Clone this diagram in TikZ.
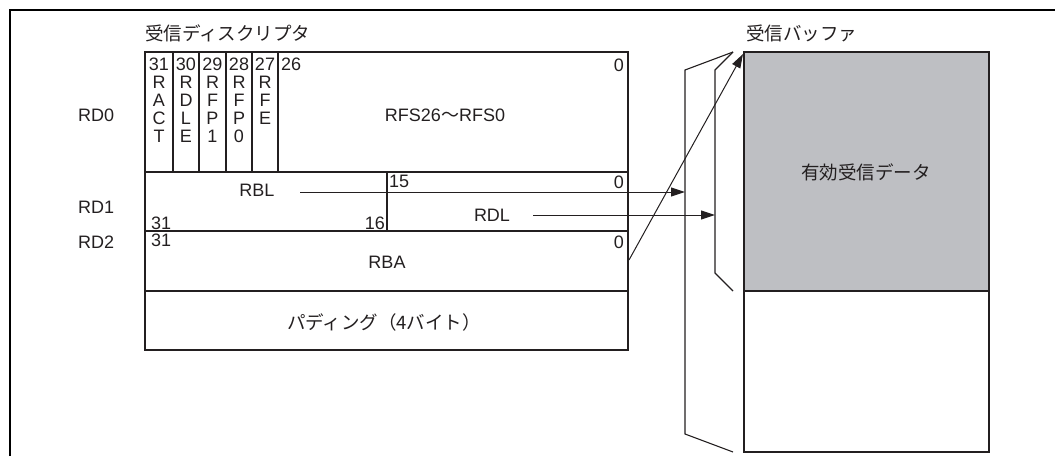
\documentclass[tikz,border=0pt]{standalone}
\usepackage{fontspec}
\setmainfont{Liberation Sans}
\newfontfamily\jp{Noto Sans CJK JP}
\usetikzlibrary{arrows.meta}
\definecolor{bufgray}{RGB}{190,191,195}
\definecolor{ink}{RGB}{35,31,32}
\begin{document}
\begin{tikzpicture}[x=1pt,y=-1pt,
  lbl/.style={inner sep=0pt, text=ink, font=\fontsize{18}{18}\selectfont},
  jlbl/.style={inner sep=0pt, text=ink, font=\jp\fontsize{18.5}{20}\selectfont},
  box/.style={line width=1.6pt, draw=ink},
  conn/.style={line width=1pt, draw=ink, -{Triangle[length=14pt,width=9pt]}},
  brk/.style={line width=1.1pt, draw=ink}]
\useasboundingbox (0,0) rectangle (1055,456);
% frame
\draw[line width=2pt] (10,456) -- (10,10) -- (1055,10);

% titles
\node[jlbl, anchor=west] (tdesc) at (145,33) {受信ディスクリプタ};
\node[jlbl, anchor=west] (tbuf) at (746,33) {受信バッファ};

% row labels
\node[lbl, anchor=west] (rd0) at (78,115) {RD0};
\node[lbl, anchor=west] (rd1) at (78,207) {RD1};
\node[lbl, anchor=west] (rd2) at (78,242) {RD2};

% descriptor boxes
\draw[box] (145,52) rectangle (628,350);
\draw[box] (145,172) -- (628,172);
\draw[box] (145,231) -- (628,231);
\draw[box] (145,291) -- (628,291);
\foreach \x in {173,199,226,252,278} \draw[box] (\x,52) -- (\x,172);
\draw[box] (387,172) -- (387,231);

% RD0 contents: bit columns, one node per character
\foreach \x/\n/\col in {159/31/{R,A,C,T}, 186/30/{R,D,L,E}, 212.5/29/{R,F,P,1}, 239/28/{R,F,P,0}, 265/27/{R,F,E}} {
  \node[lbl] (bn\n) at (\x,64) {\n};
  \foreach \c [count=\i] in \col
    \node[lbl] (bc\n-\i) at (\x,64+18*\i) {\c};
}
\node[lbl, anchor=west] (b26) at (281,64) {26};
\node[lbl, anchor=east] (b0a) at (624,65) {0};
\node[lbl] (rfs) at (445,115) {RFS26{\jp ～}RFS0};

% RD1 contents
\node[lbl] (rbl) at (257,190) {RBL};
\node[lbl, anchor=west] (r1b31) at (151,223) {31};
\node[lbl, anchor=east] (r1b16) at (385,223) {16};
\node[lbl, anchor=west] (r1b15) at (389,181) {15};
\node[lbl, anchor=east] (r1b0) at (624,182) {0};
\node[lbl] (rdl) at (492,215) {RDL};

% RD2 contents
\node[lbl, anchor=west] (r2b31) at (151,240) {31};
\node[lbl, anchor=east] (r2b0) at (624,242) {0};
\node[lbl] (rba) at (387,262) {RBA};

% padding
\node[jlbl] (pad) at (384,322) {パディング（4バイト）};

% receive buffer
\fill[bufgray] (744,52) rectangle (989,291);
\draw[box] (744,52) rectangle (989,452);
\draw[box] (744,291) -- (989,291);
\node[jlbl] (valid) at (866,172) {有効受信データ};

% brackets
\coordinate (btop) at (733,52);
\draw[brk] (btop) -- (685,70) -- (685,434) -- (733,452);
\draw[brk] (btop) -- (715,70) -- (715,273) -- (733,291);

% connectors
\coordinate (rblS) at (300,192);
\coordinate (rblE) at (685,192);
\coordinate (rdlS) at (533,215);
\coordinate (rdlE) at (715,215);
\coordinate (rbaS) at (629,260);
\coordinate (rbaE) at (743,54);
\draw[conn] (rblS) -- (rblE);
\draw[conn] (rdlS) -- (rdlE);
\draw[conn] (rbaS) -- (rbaE);
\end{tikzpicture}
\end{document}
